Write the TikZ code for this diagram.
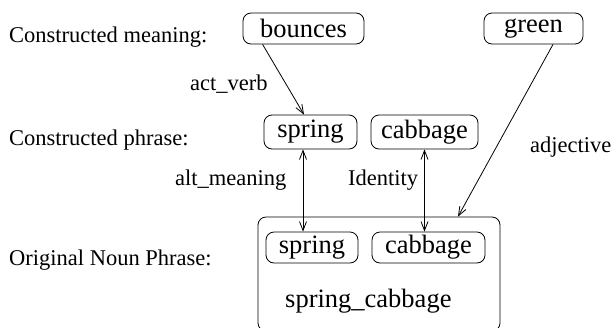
\documentclass[tikz,border=0pt]{standalone}
\usepackage{fontspec}
\setmainfont{Liberation Serif}
\usetikzlibrary{arrows.meta,calc}
\tikzset{
  wbox/.style={draw,line width=0.8pt,rounded corners=8pt,inner sep=0pt,font=\fontsize{26.5}{30}\selectfont},
  lbl/.style={inner sep=0pt,anchor=base west,font=\fontsize{22.5}{26}\selectfont},
  conn/.style={line width=0.8pt,-{Straight Barb[length=9pt,width=7pt,line width=0.8pt]}},
  biconn/.style={line width=0.8pt,{Straight Barb[length=9pt,width=7pt,line width=0.8pt]}-{Straight Barb[length=9pt,width=7pt,line width=0.8pt]}},
}
\begin{document}
\begin{tikzpicture}[x=1pt,y=-1pt]
\useasboundingbox (0,0) rectangle (612,327);
% big box
\node[wbox,minimum width=242pt,minimum height=114pt] (np) at (379,274) {};
\node[inner sep=0pt,anchor=base west,font=\fontsize{26.5}{30}\selectfont] (npt) at (285,307) {spring\_cabbage};
% boxes
\node[wbox,minimum width=121pt,minimum height=31pt] (bounces) at (303.5,28.5) {bounces};
\node[wbox,minimum width=99pt,minimum height=31pt] (green) at (533.5,28.5) {green};
\node[wbox,minimum width=93pt,minimum height=34pt] (spring1) at (310.5,132) {spring};
\node[wbox,minimum width=107pt,minimum height=34pt] (cabbage1) at (424.5,132) {cabbage};
\node[wbox,minimum width=92pt,minimum height=31pt] (spring2) at (312,247.5) {spring};
\node[wbox,minimum width=113pt,minimum height=31pt] (cabbage2) at (428.5,247.5) {cabbage};
% row labels
\node[lbl] (rowa) at (9,42) {Constructed meaning:};
\node[lbl] (rowb) at (9,145) {Constructed phrase:};
\node[lbl] (rowc) at (9,265) {Original Noun Phrase:};
% connector labels
\node[lbl] (lact) at (190,90) {act\_verb};
\node[lbl] (lalt) at (175,185) {alt\_meaning};
\node[lbl] (lid) at (348,185) {Identity};
\node[lbl] (ladj) at (530,152) {adjective};
% connectors
\draw[conn] ($(bounces.south west)+(20,0)$) -- ($(spring1.north)+(-6.5,0)$);
\draw[conn] ($(green.south)+(19.5,0)$) -- ($(np.north)+(79,0)$);
\coordinate (sa) at ($(spring1.south)+(-7.5,0)$);
\draw[biconn] (sa) -- (sa |- spring2.north);
\draw[biconn] (cabbage1.south) -- (cabbage1.south |- cabbage2.north);
\end{tikzpicture}
\end{document}
